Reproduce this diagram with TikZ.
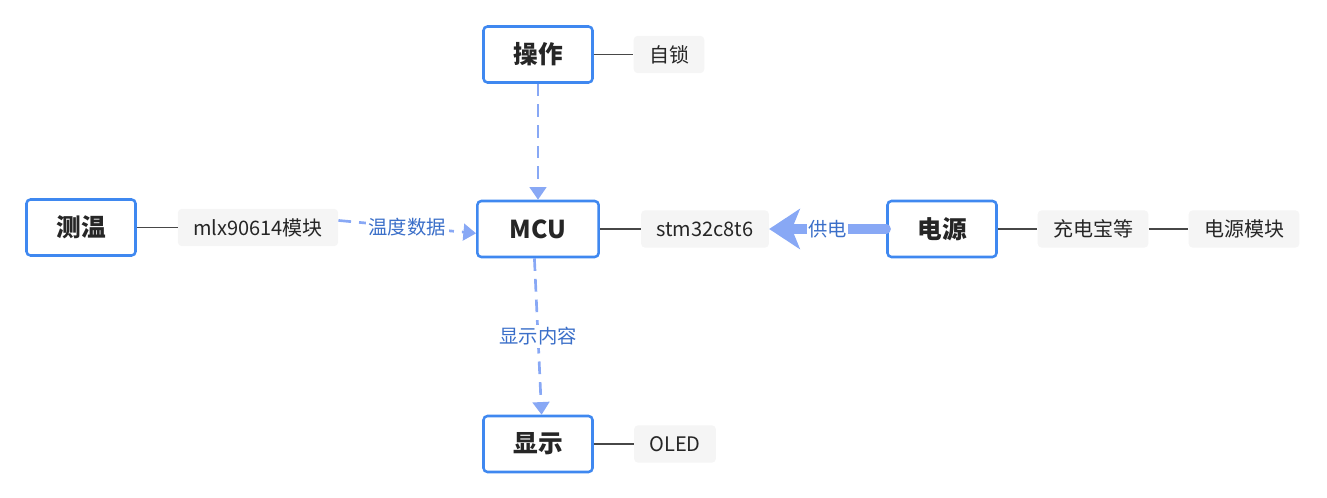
\documentclass[tikz,border=0pt]{standalone}
\usepackage{fontspec}
\setmainfont{Noto Sans CJK SC}
\usetikzlibrary{calc,arrows.meta}

\definecolor{boxblue}{HTML}{3F88F0}
\definecolor{linkblue}{HTML}{88A8F5}
\definecolor{labelblue}{HTML}{3B6FC9}
\definecolor{subgray}{HTML}{F5F5F5}
\definecolor{textdark}{HTML}{262626}

\tikzset{
	mainbox/.style={draw=boxblue, line width=1.9pt, rounded corners=3pt, fill=white,
		minimum width=81.75pt, minimum height=42pt, inner sep=0pt,
		font=\fontsize{18.5}{20}\selectfont\bfseries, text=textdark},
	subbox/.style={fill=subgray, rounded corners=3pt, inner xsep=11.5pt, inner ysep=0pt,
		minimum height=28pt, font=\fontsize{15}{16}\selectfont, text=textdark},
	subline/.style={draw=black!72, line width=1.2pt},
	flow/.style={draw=linkblue, line width=2pt, dash pattern=on 9.5pt off 6pt,
		-{Triangle[length=9.5pt, width=12.5pt]}},
	flowlabel/.style={fill=white, inner sep=2pt, text=labelblue,
		font=\fontsize{14.5}{16}\selectfont}
}

\begin{document}
\begin{tikzpicture}[x=0.75pt, y=-0.75pt]

		\useasboundingbox (0, 0) rectangle (1327, 498);

		\pgfmathsetmacro{\midy}{229}
		\pgfmathsetmacro{\midx}{538}

		% main boxes
		\node[mainbox] (op) at (\midx, 54.5) {操作};
		\node[mainbox] (cw) at (81, 227.5) {测温};
		\node[mainbox, minimum width=91pt] (mcu) at (\midx, \midy) {MCU};
		\node[mainbox] (dy) at (942, \midy) {电源};
		\node[mainbox] (xs) at (\midx, 444) {显示};

		% side boxes
		\node[subbox] (zs) at (669, 54.5) {自锁};
		\node[subbox] (mlx) at (258, 227.5) {mlx90614模块};
		\node[subbox] (stm) at (705, \midy) {stm32c8t6};
		\node[subbox] (cdb) at (1093, \midy) {充电宝等};
		\node[subbox] (dymk) at (1244, \midy) {电源模块};
		\node[subbox] (oled) at (675, 444) {OLED};

		% draw plain links
		\foreach \a/\b in {op/zs, cw/mlx, mcu/stm, dy/cdb, cdb/dymk, xs/oled}
		{
			\draw[subline] (\a) -- (\b);
		}

		% draw data flows
		\draw[flow] (op.south) -- (mcu.north);
		\draw[flow] (mlx.5) -- node[flowlabel] (wdsj) {温度数据} (mcu.184);
		\draw[flow] (mcu.-97) -- node[flowlabel] (xsnr) {显示内容} (xs.83);

		% draw power feed
		\draw[draw=linkblue, line width=7pt, line cap=round,
			-{Stealth[length=23pt, width=30pt, inset=6pt]}]
			(dy.west) -- node[flowlabel, inner sep=1pt] (gd) {供电} (stm.east);

	\end{tikzpicture}
\end{document}
